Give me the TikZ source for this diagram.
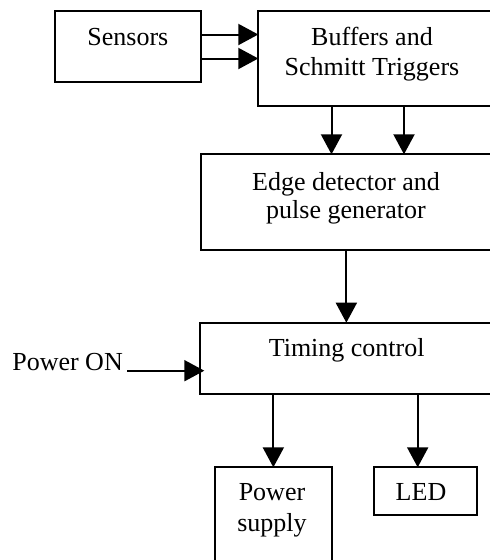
\documentclass[tikz,border=0pt]{standalone}
\usepackage{fontspec}
\setmainfont{Liberation Serif}
\usetikzlibrary{arrows.meta}
\begin{document}
\begin{tikzpicture}[x=1pt,y=-1pt,
  box/.style={draw, line width=2pt, rectangle, inner sep=0pt, outer sep=0pt},
  txt/.style={inner sep=0pt, anchor=base, font=\fontsize{26}{29}\selectfont},
  arr/.style={line width=2pt, -{Triangle[length=20pt,width=21pt]}}]
\useasboundingbox (0,0) rectangle (490,560);
\clip (0,0) rectangle (490,560);
% boxes
\node[box, minimum width=145.7pt, minimum height=71.6pt] (sens) at (127.85,46.5) {};
\node[box, minimum width=232.7pt, minimum height=95.6pt] (buf) at (374.65,58.5) {};
\node[box, minimum width=291.3pt, minimum height=95.7pt] (edge) at (346.35,202.15) {};
\node[box, minimum width=292.7pt, minimum height=71.6pt] (timing) at (346.65,358.5) {};
\node[box, minimum width=116.7pt, minimum height=95.7pt] (psup) at (273.35,515.15) {};
\node[box, minimum width=102.4pt, minimum height=47.7pt] (led) at (425.5,491.15) {};
% texts
\node[txt] (senst) at (127.85,45) {Sensors};
\node[txt] (buft1) at (372,45) {Buffers and};
\node[txt] (buft2) at (372,75) {Schmitt Triggers};
\node[txt] (edget1) at (346,190) {Edge detector and};
\node[txt] (edget2) at (346,218.3) {pulse generator};
\node[txt] (timingt) at (346.7,356.7) {Timing control};
\node[txt] (psupt1) at (272,500.7) {Power};
\node[txt] (psupt2) at (272,531.7) {supply};
\node[txt] (ledt) at (421,500.7) {LED};
\node[txt, anchor=base east] (pon) at (123,370.7) {Power ON};
% coordinates
\coordinate (b1) at (331.5,0);
\coordinate (b2) at (404,0);
\coordinate (t2) at (417.7,0);
% connectors
\draw[arr] ([yshift=12pt]sens.east) -- ([yshift=12pt]sens.east -| buf.west);
\draw[arr] ([yshift=-12pt]sens.east) -- ([yshift=-12pt]sens.east -| buf.west);
\draw[arr] (buf.south -| b1) -- (edge.north -| b1);
\draw[arr] (buf.south -| b2) -- (edge.north -| b2);
\draw[arr] (edge.south) -- (edge.south |- timing.north);
\draw[arr] ([xshift=4pt]pon.base east) -- ([xshift=4pt]pon.base east -| timing.west);
\draw[arr] (timing.south -| psup.north) -- (psup.north);
\draw[arr] (timing.south -| t2) -- (led.north -| t2);
\end{tikzpicture}
\end{document}
